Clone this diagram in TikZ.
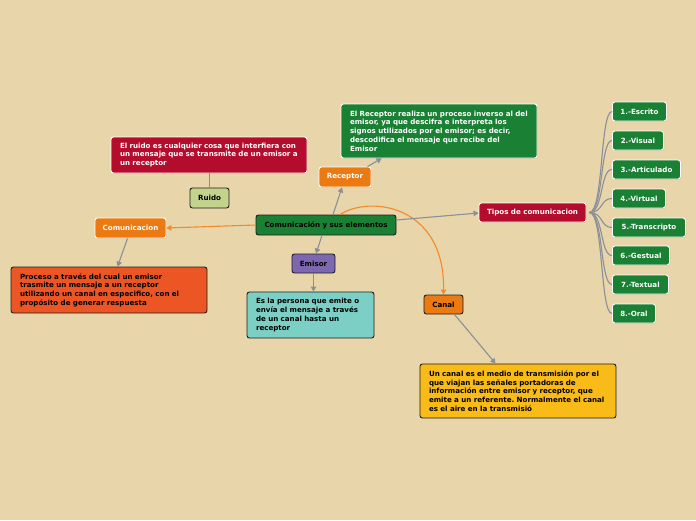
\documentclass[tikz,border=0pt]{standalone}
\usepackage{fontspec}
\setmainfont{DejaVu Sans}
\usetikzlibrary{arrows.meta,shadows}
\frenchspacing
\definecolor{bg}{RGB}{232,213,169}
\definecolor{dgreen}{RGB}{26,128,52}
\definecolor{crimson}{RGB}{180,12,45}
\definecolor{orng}{RGB}{236,122,18}
\definecolor{lgreen}{RGB}{195,210,140}
\definecolor{purp}{RGB}{125,104,176}
\definecolor{teal2}{RGB}{124,207,196}
\definecolor{ored}{RGB}{236,86,36}
\definecolor{yell}{RGB}{249,187,24}
\definecolor{conn}{RGB}{138,143,154}
\definecolor{oline}{RGB}{242,138,42}
\definecolor{dk}{RGB}{30,30,30}
\tikzset{
  base/.style={rounded corners=2.5pt, font=\bfseries\fontsize{7.1}{8.7}\selectfont, inner sep=0pt},
  lightbox/.style={base, draw=white, line width=0.9pt, text=white, drop shadow={opacity=0.25, shadow xshift=0.6pt, shadow yshift=-0.8pt}},
  darkbox/.style={base, draw=dk, line width=0.9pt, text=black},
  desc/.style={inner xsep=9pt, align=left, anchor=center},
  conn/.style={draw=conn, line width=1.1pt, -{Triangle[width=5.5pt,length=5pt]}},
  oconn/.style={draw=oline, line width=1.1pt, -{Triangle[width=5.5pt,length=5pt]}},
  branch/.style={draw=conn, line width=1.1pt},
}
\begin{document}
\begin{tikzpicture}[x=1pt,y=-1pt]
\fill[bg] (0,0) rectangle (696,520);
\useasboundingbox (0,0) rectangle (696,520);

% central
\node[darkbox, fill=dgreen, minimum width=140pt, minimum height=20pt] (c) at (326,225) {Comunicación y sus elementos};

% receptor
\node[lightbox, fill=orng, minimum width=52pt, minimum height=20pt] (rec) at (345,177) {Receptor};
\node[lightbox, desc, fill=dgreen, text width=178pt, minimum height=54pt] (recd) at (439,131)
 {El Receptor realiza un proceso inverso al del\\emisor, ya que descifra e interpreta los\\signos utilizados por el emisor; es decir,\\descodifica el mensaje que recibe del\\Emisor};

% ruido
\node[darkbox, fill=lgreen, minimum width=39pt, minimum height=20pt] (rui) at (209.5,198) {Ruido};
\node[lightbox, desc, fill=crimson, text width=178pt, minimum height=36pt] (ruid) at (209,155)
 {El ruido es cualquier cosa que interfiera con\\un mensaje que se transmite de un emisor a\\un receptor};

% comunicacion
\node[lightbox, fill=orng, minimum width=71pt, minimum height=20pt] (com) at (130.5,228) {Comunicacion};
\node[darkbox, desc, fill=ored, text width=178pt, minimum height=46pt] (comd) at (109,290)
 {Proceso a través del cual un emisor\\trasmite un mensaje a un receptor\\utilizando un canal en especifico, con el\\propósito de generar respuesta};

% emisor
\node[darkbox, fill=purp, minimum width=43pt, minimum height=19pt] (emi) at (313.5,263.5) {Emisor};
\node[darkbox, desc, fill=teal2, text width=109pt, minimum height=46pt] (emid) at (310.5,315)
 {Es la persona que emite o\\envía el mensaje a través\\de un canal hasta un\\receptor};

% canal
\node[darkbox, fill=orng, minimum width=39pt, minimum height=19pt] (can) at (443.5,304.5) {Canal};
\node[darkbox, desc, fill=yell, text width=178pt, minimum height=54pt] (cand) at (518,391)
 {Un canal es el medio de transmisión por el\\que viajan las señales portadoras de\\información entre emisor y receptor, que\\emite a un referente. Normalmente el canal\\es el aire en la transmisió};

% tipos
\node[lightbox, fill=crimson, minimum width=107pt, minimum height=19pt] (tip) at (532.5,212.5) {Tipos de comunicacion};
\node[lightbox, fill=dgreen, anchor=west, minimum width=54pt, minimum height=19pt] (t1) at (612,111.5) {1.-Escrito};
\node[lightbox, fill=dgreen, anchor=west, minimum width=51pt, minimum height=19pt] (t2) at (612,140.5) {2.-Visual};
\node[lightbox, fill=dgreen, anchor=west, minimum width=68pt, minimum height=19pt] (t3) at (612,169.5) {3.-Articulado};
\node[lightbox, fill=dgreen, anchor=west, minimum width=53pt, minimum height=19pt] (t4) at (612,198.5) {4.-Virtual};
\node[lightbox, fill=dgreen, anchor=west, minimum width=73pt, minimum height=19pt] (t5) at (612,227.5) {5.-Transcripto};
\node[lightbox, fill=dgreen, anchor=west, minimum width=57pt, minimum height=19pt] (t6) at (612,255.5) {6.-Gestual};
\node[lightbox, fill=dgreen, anchor=west, minimum width=56pt, minimum height=19pt] (t7) at (612,284.5) {7.-Textual};
\node[lightbox, fill=dgreen, anchor=west, minimum width=43pt, minimum height=19pt] (t8) at (612,313.5) {8.-Oral};

% connectors
\draw[conn] ([xshift=7pt]c.north) -- ([xshift=-3pt]rec.south);
\draw[conn] ([xshift=-4pt]rec.north east) -- ([xshift=41pt]recd.south west);
\draw[branch] (rui.north) -- (rui.north |- ruid.south);
\draw[oconn] (c.west) -- (com.east);
\draw[conn] ([xshift=-3pt]com.south) -- ([xshift=107pt]comd.north west);
\draw[conn] ([xshift=-4pt]c.south) -- ([xshift=2.5pt]emi.north);
\draw[conn] (emi.south) -- (emi.south |- emid.north);
\draw[oconn] ([xshift=14pt]c.north) .. controls (370,195) and (445,205) .. (can.north);
\draw[conn] ([yshift=5pt]c.east) -- ([yshift=-0.5pt]tip.west);
\draw[conn] ([xshift=11pt]can.south) -- ([xshift=76pt]cand.north west);
\foreach \t in {t1,t2,t3,t4,t5,t6,t7,t8}{
  \draw[branch] ([xshift=3pt]tip.east) .. controls +(14,0) and +(-12,0) .. (\t.west);
}
\end{tikzpicture}
\end{document}
